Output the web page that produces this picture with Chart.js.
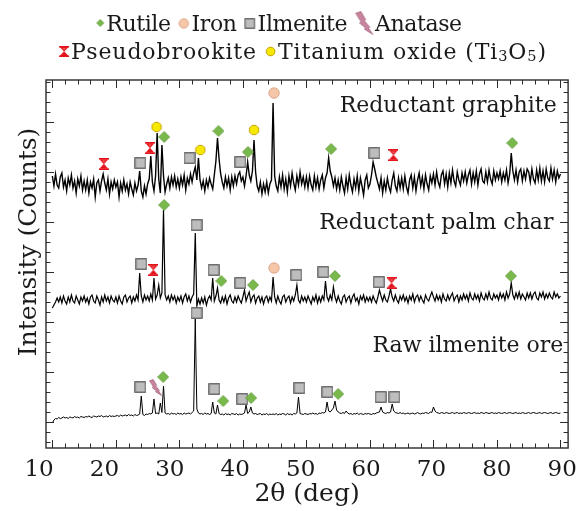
<!DOCTYPE html>
<html>
<head>
<meta charset="utf-8">
<script src="https://cdn.jsdelivr.net/npm/chart.js@4.4.0/dist/chart.umd.min.js"></script>
<style>
  html, body { margin: 0; padding: 0; background: #ffffff; }
  #wrap { position: relative; width: 585px; height: 511px; overflow: hidden; }
  #c { position: absolute; left: 0; top: 0; }
  .lg { position: absolute; white-space: nowrap; font-family: 'DejaVu Serif', serif; font-size: 22px;
        line-height: 22px; color: #1a1a1a; transform: translateX(-50%); }
  .it { display: inline-block; margin-left: 8px; }
  .it:first-child { margin-left: 0; }
  .it canvas { vertical-align: middle; margin-right: 2px; position: relative; top: -2px; }
  .lg sub { font-size: 0.66em; vertical-align: -0.12em; line-height: 0; }
</style>
</head>
<body>
<div id="wrap">
  <canvas id="c" width="585" height="511"></canvas>
  <div class="lg" id="lg1" style="left:279px; top:13px; letter-spacing:-0.4px;"></div>
  <div class="lg" id="lg2" style="left:303px; top:41px; letter-spacing:0.9px;"></div>
</div>
<script>
// ---------------- data ----------------
const twoThetaStart = 10;
const twoThetaStep = 0.25;

// Reductant graphite (counts), 10..90 deg every 0.25 deg
const graphiteCounts = [
  2460,2360,2480,2370,2340,2450,2490,2350,2420,2310,2440,2370,2470,2340,2410,2290,2430,2360,2460,2320,
  2410,2320,2420,2290,2400,2340,2430,2250,2390,2420,2310,2410,2480,2390,2320,2430,2280,2400,2330,2420,
  2350,2400,2250,2390,2310,2420,2320,2380,2280,2400,2330,2270,2390,2310,2370,2510,2310,2250,2360,2280,
  2380,2430,2660,2400,2310,2460,2890,2430,2290,2770,2460,2300,2380,2440,2340,2450,2370,2460,2350,2430,
  2340,2450,2370,2470,2320,2440,2380,2480,2400,2490,2550,2420,2640,2420,2340,2410,2310,2420,2350,2440,
  2380,2330,2470,2610,2840,2630,2480,2400,2340,2450,2360,2440,2320,2450,2360,2460,2380,2470,2500,2410,
  2450,2360,2460,2600,2470,2410,2510,2820,2500,2360,2310,2400,2280,2380,2300,2400,2290,2380,2420,3190,
  2460,2360,2310,2450,2350,2470,2330,2430,2300,2460,2360,2490,2390,2320,2460,2370,2500,2380,2450,2350,
  2450,2340,2460,2370,2320,2460,2350,2440,2330,2420,2470,2340,2440,2490,2640,2510,2450,2360,2440,2330,
  2420,2320,2450,2360,2290,2440,2330,2470,2370,2300,2430,2340,2460,2310,2440,2360,2270,2420,2470,2340,
  2380,2470,2600,2530,2450,2390,2330,2440,2290,2410,2320,2440,2350,2300,2420,2490,2360,2310,2440,2340,
  2440,2330,2460,2350,2290,2420,2470,2340,2450,2310,2420,2490,2360,2450,2330,2470,2380,2320,2460,2390,
  2480,2370,2500,2400,2350,2470,2510,2380,2480,2350,2490,2390,2520,2410,2360,2500,2420,2370,2490,2410,
  2500,2390,2470,2520,2380,2490,2400,2510,2370,2480,2530,2410,2390,2500,2400,2520,2430,2380,2510,2420,
  2490,2430,2510,2400,2490,2420,2520,2390,2480,2690,2510,2420,2520,2400,2500,2530,2410,2510,2430,2530,
  2500,2400,2530,2430,2390,2520,2420,2540,2410,2510,2400,2530,2440,2410,2540,2430,2520,2400,2510,2440,
  2480
];

// Reductant palm char (counts)
const palmCharCounts = [
  1140,1170,1200,1240,1200,1250,1190,1260,1210,1180,1250,1200,1270,1210,1190,1260,1220,1180,1250,1210,
  1260,1200,1240,1180,1250,1270,1210,1190,1260,1220,1170,1250,1200,1270,1210,1250,1190,1260,1220,1200,
  1250,1190,1260,1210,1180,1250,1270,1200,1240,1260,1190,1250,1210,1270,1220,1490,1260,1200,1270,1220,
  1260,1210,1280,1220,1440,1230,1270,1370,1240,1290,2120,1270,1220,1260,1200,1270,1220,1260,1190,1250,
  1210,1260,1190,1250,1280,1210,1260,1200,1250,1280,1890,1160,1230,1180,1240,1190,1250,1170,1230,1260,
  1220,1440,1210,1260,1340,1220,1190,1250,1200,1260,1180,1240,1270,1210,1190,1250,1200,1260,1220,1190,
  1250,1320,1210,1260,1300,1200,1250,1270,1190,1240,1260,1200,1250,1180,1240,1260,1200,1250,1210,1450,
  1250,1190,1260,1210,1180,1250,1270,1200,1240,1260,1190,1250,1210,1270,1370,1220,1190,1260,1210,1250,
  1200,1260,1220,1180,1250,1210,1270,1190,1250,1200,1260,1220,1410,1250,1210,1270,1220,1350,1250,1200,
  1260,1210,1180,1250,1270,1200,1240,1260,1190,1250,1280,1210,1240,1180,1260,1220,1270,1200,1250,1210,
  1250,1200,1260,1220,1190,1250,1320,1260,1210,1270,1220,1200,1260,1330,1250,1210,1270,1220,1190,1260,
  1220,1270,1210,1250,1190,1260,1220,1280,1200,1250,1270,1210,1260,1220,1190,1270,1230,1210,1260,1300,
  1250,1210,1270,1220,1260,1200,1280,1230,1210,1270,1220,1260,1290,1210,1250,1270,1200,1260,1220,1280,
  1230,1270,1210,1290,1240,1220,1280,1230,1270,1210,1290,1240,1220,1280,1230,1300,1240,1220,1280,1240,
  1270,1220,1290,1240,1280,1220,1300,1240,1280,1390,1270,1230,1290,1240,1300,1230,1280,1250,1220,1290,
  1240,1290,1230,1280,1300,1240,1220,1290,1250,1300,1230,1280,1240,1290,1250,1230,1300,1250,1280,1240,
  1260
];

// Raw ilmenite ore (counts)
const rawOreCounts = [
  -10,20,35,30,45,35,40,50,40,45,35,50,45,40,55,45,50,40,55,50,
  45,55,50,60,50,45,60,55,50,60,55,65,50,55,60,50,65,55,60,55,
  60,65,55,70,60,65,70,60,75,65,70,60,75,65,70,80,260,75,65,80,
  75,85,80,90,230,85,90,80,190,95,360,90,80,85,75,90,80,85,75,90,
  80,85,75,90,80,85,90,80,95,110,1030,130,90,80,85,75,90,80,85,75,
  85,200,90,80,170,85,75,80,70,85,75,80,70,85,80,75,85,70,80,75,
  80,90,170,85,100,150,90,80,85,75,80,85,70,80,75,85,70,80,75,80,
  75,85,70,80,75,85,80,70,85,75,80,70,85,80,90,250,85,80,75,85,
  80,75,85,80,90,80,85,75,90,85,95,90,100,200,110,100,120,140,210,120,
  100,90,85,95,85,110,90,80,85,75,85,80,90,75,85,80,75,85,80,85,
  80,75,85,80,90,95,100,150,100,90,85,95,90,100,180,110,95,90,85,95,
  85,90,80,85,90,80,85,90,80,85,95,85,80,90,85,95,90,85,100,95,
  150,110,95,90,85,95,90,85,95,90,85,90,95,85,90,95,85,90,85,95,
  90,85,95,90,85,90,95,85,90,85,95,90,85,95,90,85,90,95,85,90,
  85,95,90,85,90,95,85,90,95,90,85,90,95,85,90,85,95,90,85,90,
  95,85,90,95,90,85,90,95,85,90,95,90,85,90,95,85,90,95,90,85,
  90
];

// phase markers (2theta, counts)
const rutileX    = [27.6, 36.15, 40.8, 53.9, 82.4, 27.6, 36.6, 41.6, 54.5, 82.2, 27.45, 36.9, 41.3, 55.0];
const rutileY    = [2850, 2910, 2700, 2730, 2790, 2170, 1410, 1370, 1460, 1460, 450, 210, 240, 280];
const ironX      = [44.9, 44.9];
const ironY      = [3290, 1540];
const ilmeniteX  = [23.85, 31.6, 39.6, 60.7, 24.0, 32.7, 35.4, 39.6, 48.4, 52.65, 61.4, 23.85, 32.7, 35.5, 39.9, 48.9, 53.3, 61.7, 63.85];
const ilmeniteY  = [2590, 2640, 2600, 2690, 1580, 1970, 1520, 1390, 1470, 1500, 1400, 350, 1090, 330, 230, 340, 300, 250, 250];
const anataseX   = [26.25];
const anataseY   = [345];
const pseudoX    = [18.1, 25.36, 63.7, 25.9, 63.4];
const pseudoY    = [2580, 2740, 2670, 1520, 1390];
const ti3o5X     = [26.4, 33.3, 41.75];
const ti3o5Y     = [2950, 2720, 2920];

const sampleNames = ['Reductant graphite', 'Reductant palm char', 'Raw ilmenite ore'];
const xTickValues = [10, 20, 30, 40, 50, 60, 70, 80, 90];

// ---------------- icons ----------------
function icon(kind, w, h) {
  const c = document.createElement('canvas');
  c.width = w; c.height = h;
  const g = c.getContext('2d');
  g.lineJoin = 'round';
  if (kind === 'rutile') {
    g.beginPath();
    g.moveTo(w / 2, 0.5); g.lineTo(w - 0.5, h / 2); g.lineTo(w / 2, h - 0.5); g.lineTo(0.5, h / 2);
    g.closePath();
    g.fillStyle = '#79b84b'; g.fill();
    g.strokeStyle = '#5f9a3a'; g.lineWidth = 0.8; g.stroke();
  } else if (kind === 'iron') {
    g.beginPath(); g.arc(w / 2, h / 2, w / 2 - 0.8, 0, Math.PI * 2);
    g.fillStyle = '#f5c6a8'; g.fill();
    g.strokeStyle = '#d8a286'; g.lineWidth = 0.9; g.stroke();
  } else if (kind === 'ilmenite') {
    g.fillStyle = '#bdbdbd'; g.fillRect(0.75, 0.75, w - 1.5, h - 1.5);
    g.strokeStyle = '#6e6e6e'; g.lineWidth = 1.3; g.strokeRect(0.75, 0.75, w - 1.5, h - 1.5);
  } else if (kind === 'pseudo') {
    g.fillStyle = '#e3141b';
    const bar = Math.max(1.5, h * 0.13);
    g.fillRect(0, 0, w, bar);
    g.fillRect(0, h - bar, w, bar);
    g.beginPath(); g.moveTo(w * 0.06, h * 0.1); g.lineTo(w * 0.94, h * 0.1); g.lineTo(w * 0.5, h * 0.52); g.closePath(); g.fill();
    g.beginPath(); g.moveTo(w * 0.06, h * 0.9); g.lineTo(w * 0.94, h * 0.9); g.lineTo(w * 0.5, h * 0.48); g.closePath(); g.fill();
    g.fillStyle = '#f26a6e';
    g.beginPath(); g.moveTo(w * 0.35, h * 0.2); g.lineTo(w * 0.65, h * 0.2); g.lineTo(w * 0.5, h * 0.38); g.closePath(); g.fill();
  } else if (kind === 'ti3o5') {
    const cx = w / 2, cy = h / 2, r = w / 2 - 1;
    g.beginPath();
    for (let k = 0; k < 8; k++) {
      const a = k * Math.PI / 4 + Math.PI / 8;
      const x = cx + r * Math.cos(a), y = cy + r * Math.sin(a);
      if (k === 0) g.moveTo(x, y); else g.lineTo(x, y);
    }
    g.closePath();
    g.fillStyle = '#f7e800'; g.fill();
    g.strokeStyle = '#c4a200'; g.lineWidth = 1; g.stroke();
  } else if (kind === 'anatase') {
    const pts = [[0.00,0.08],[0.30,0.00],[0.58,0.36],[0.50,0.40],[0.82,0.68],[0.74,0.71],[1.00,1.00],
                 [0.50,0.76],[0.58,0.72],[0.22,0.50],[0.31,0.45]];
    g.beginPath();
    pts.forEach((p, k) => { const x = 0.5 + p[0] * (w - 1), y = 0.5 + p[1] * (h - 1); if (k === 0) g.moveTo(x, y); else g.lineTo(x, y); });
    g.closePath();
    g.fillStyle = '#c9849f'; g.fill();
    g.strokeStyle = '#a3647f'; g.lineWidth = 0.8; g.stroke();
  }
  return c;
}

// ---------------- legend (HTML text) ----------------
const legendRow1 = [['rutile', 'Rutile', 8, 8], ['iron', 'Iron', 11, 11], ['ilmenite', 'Ilmenite', 11, 11], ['anatase', 'Anatase', 18, 24]];
const legendRow2 = [['pseudo', 'Pseudobrookite', 10, 11], ['ti3o5', 'Titanium oxide (Ti<sub>3</sub>O<sub>5</sub>)', 11, 11]];
function buildLegend(el, row) {
  row.forEach(([kind, label, w, h]) => {
    const it = document.createElement('span');
    it.className = 'it';
    it.appendChild(icon(kind, w, h));
    const t = document.createElement('span');
    t.innerHTML = label;
    it.appendChild(t);
    el.appendChild(it);
  });
}
buildLegend(document.getElementById('lg1'), legendRow1);
buildLegend(document.getElementById('lg2'), legendRow2);

// ---------------- chart ----------------
function series(counts) {
  return counts.map((v, i) => ({ x: twoThetaStart + i * twoThetaStep, y: v }));
}
function marks(xs, ys) { return xs.map((x, i) => ({ x: x, y: ys[i] })); }

const FONT = "'DejaVu Serif', serif";
const TXT = '#1a1a1a';

const decorPlugin = {
  id: 'decor',
  afterDraw(chart) {
    const { ctx, chartArea: a, scales } = chart;
    const xs = scales.x, ys = scales.y;
    ctx.save();
    ctx.strokeStyle = '#2b2b2b';
    ctx.lineWidth = 1;
    ctx.beginPath();
    xs.ticks.forEach(t => {
      const px = Math.round(xs.getPixelForValue(t.value)) + 0.5;
      const len = (t.value % 10 === 0) ? 8 : 4.5;
      ctx.moveTo(px, a.bottom); ctx.lineTo(px, a.bottom - len);
      ctx.moveTo(px, a.top); ctx.lineTo(px, a.top + len);
    });
    ys.ticks.forEach(t => {
      const py = Math.round(ys.getPixelForValue(t.value)) + 0.5;
      const len = (t.value % 500 === 0) ? 8 : 4.5;
      ctx.moveTo(a.left, py); ctx.lineTo(a.left + len, py);
      ctx.moveTo(a.right, py); ctx.lineTo(a.right - len, py);
    });
    ctx.stroke();
    ctx.lineWidth = 1.4;
    ctx.strokeRect(a.left, a.top, a.right - a.left, a.bottom - a.top);

    // y axis title
    ctx.fillStyle = TXT;
    ctx.font = "25px " + FONT;
    ctx.textAlign = 'center';
    ctx.textBaseline = 'alphabetic';
    ctx.save();
    ctx.translate(36, 242);
    ctx.rotate(-Math.PI / 2);
    ctx.fillText('Intensity (Counts)', 0, 0);
    ctx.restore();

    // sample labels, anchored in data coordinates (right aligned, baseline)
    const anchors = chart.options.plugins.decor.anchors;
    ctx.font = "22px " + FONT;
    ctx.textAlign = 'right';
    anchors.forEach((an, i) => {
      ctx.fillText(sampleNames[i], xs.getPixelForValue(an[0]), ys.getPixelForValue(an[1]));
    });
    ctx.restore();
  }
};

const lineDs = (counts, w) => ({
  type: 'line', data: series(counts), borderColor: '#000000', borderWidth: w,
  pointRadius: 0, tension: 0, order: 2, fill: false
});
const markDs = (xs, ys, img) => ({
  type: 'scatter', data: marks(xs, ys), pointStyle: img, pointRadius: 6,
  showLine: false, order: 1, clip: false
});

new Chart(document.getElementById('c'), {
  type: 'line',
  data: {
    datasets: [
      lineDs(graphiteCounts, 1.4),
      lineDs(palmCharCounts, 1.2),
      lineDs(rawOreCounts, 1),
      markDs(rutileX, rutileY, icon('rutile', 12, 12)),
      markDs(ironX, ironY, icon('iron', 12, 12)),
      markDs(ilmeniteX, ilmeniteY, icon('ilmenite', 12, 12)),
      markDs(anataseX, anataseY, icon('anatase', 13, 17)),
      markDs(pseudoX, pseudoY, icon('pseudo', 10, 12)),
      markDs(ti3o5X, ti3o5Y, icon('ti3o5', 12, 12))
    ]
  },
  options: {
    responsive: false,
    animation: false,
    devicePixelRatio: 1,
    layout: { padding: { top: 80, right: 10, left: 0, bottom: 0 } },
    plugins: {
      legend: { display: false },
      tooltip: { enabled: false },
      decor: { anchors: [[89.4, 3105], [88.9, 1935], [90.45, 700]] }
    },
    scales: {
      x: {
        type: 'linear', position: 'bottom', min: 9, max: 91.2,
        ticks: { display: false, stepSize: 2, includeBounds: false },
        grid: { display: false, drawTicks: false }, border: { display: false },
        afterFit: (s) => { s.height = 0; }
      },
      xl: {
        type: 'linear', position: 'bottom', min: 11.057, max: 90.906,
        afterBuildTicks: (s) => { s.ticks = xTickValues.map(v => ({ value: v })); },
        ticks: {
          padding: 8, autoSkip: false, maxRotation: 0,
          font: { family: FONT, size: 23 }, color: TXT
        },
        grid: { display: false, drawTicks: false }, border: { display: false },
        title: { display: true, text: '2θ (deg)', font: { family: FONT, size: 25 }, color: TXT, padding: { top: 0, bottom: 2 } },
        afterFit: (s) => { s.height = 63; }
      },
      y: {
        type: 'linear', min: -260, max: 3420,
        ticks: { display: false, stepSize: 100, includeBounds: false },
        grid: { display: false, drawTicks: false }, border: { display: false },
        afterFit: (s) => { s.width = 46; }
      }
    }
  },
  plugins: [decorPlugin]
});
</script>
</body>
</html>
